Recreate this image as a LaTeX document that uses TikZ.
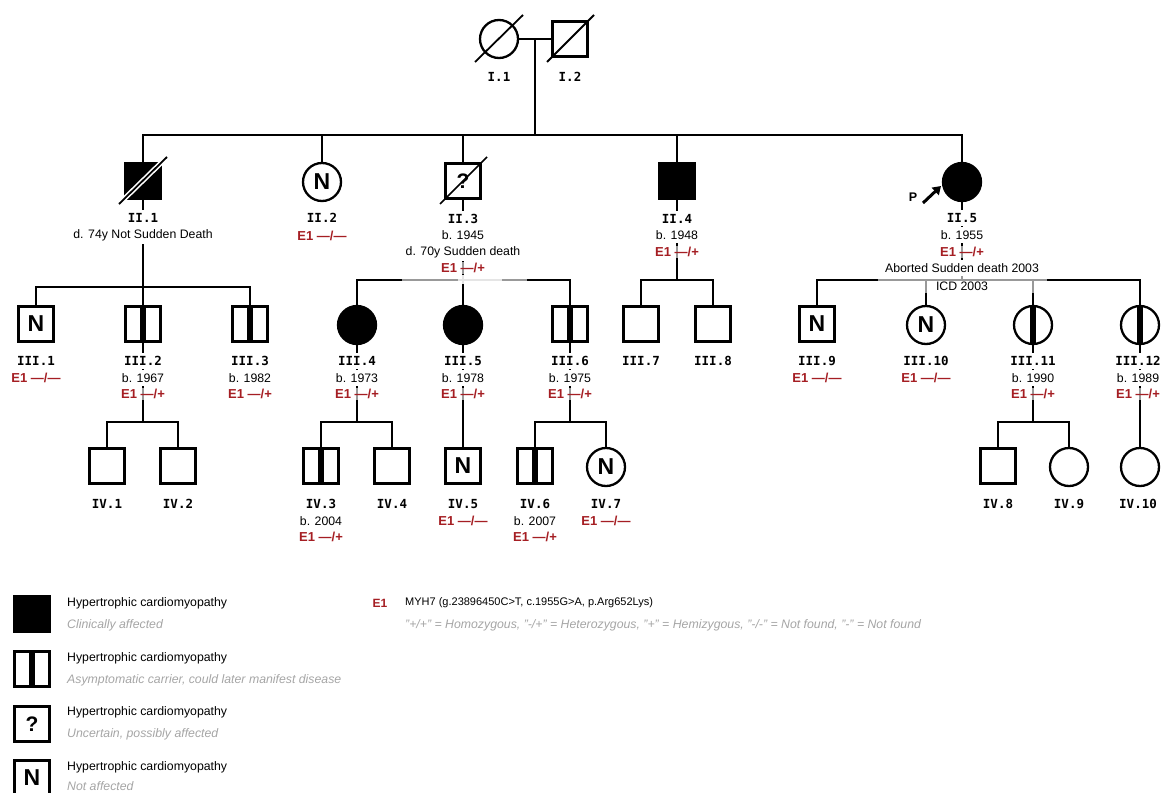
\documentclass[tikz,border=0pt]{standalone}
\usepackage{fontspec}
\setmainfont{Liberation Sans}
\newfontfamily\idff{DejaVu Sans Mono}
\usetikzlibrary{arrows.meta}
\definecolor{e1red}{RGB}{165,30,35}
\definecolor{subgray}{RGB}{165,165,165}
\pgfdeclarelayer{bg}
\pgfsetlayers{bg,main}
\begin{document}
\begin{tikzpicture}[x=1pt,y=-1pt,
 sq/.style={draw, line width=2.3pt, minimum size=35pt, inner sep=0pt, fill=white},
 ci/.style={circle, draw, line width=2.3pt, minimum size=38pt, inner sep=0pt, fill=white},
 aff/.style={fill=black},
 car/.style={path picture={\fill[black] ([xshift=-3.4pt]path picture bounding box.south) rectangle ([xshift=3.4pt]path picture bounding box.north);}},
 nn/.style={font=\fontsize{23}{23}\selectfont\bfseries},
 qq/.style={font=\fontsize{21}{21}\selectfont\bfseries},
 ln/.style={line width=1.8pt},
 dead/.style={line width=1.8pt},
 idl/.style={font=\idff\fontsize{12.5}{13}\selectfont\bfseries, fill=white, inner xsep=1pt, inner ysep=3pt},
 inf/.style={font=\fontsize{12.3}{13}\selectfont, fill=white, inner xsep=0.6pt, inner ysep=3pt},
 gen/.style={font=\fontsize{13}{14}\selectfont\bfseries, text=e1red, fill=white, fill opacity=0.6, text opacity=1, inner xsep=1pt, inner ysep=1.5pt},
 lgt/.style={font=\fontsize{12.3}{13}\selectfont, anchor=west, inner sep=0pt},
 lgs/.style={font=\fontsize{12.3}{13}\selectfont\itshape, text=subgray, anchor=west, inner sep=0pt},
]
\useasboundingbox (0,0) rectangle (1161,792);

% ---------- Generation I ----------
\node[ci] (I1) at (499,39) {};
\node[sq] (I2) at (570,39) {};
\draw[dead] (475,62) -- (523,15);
\draw[dead] (547,62) -- (594,15);
\node[idl] (I1l) at (499,77) {I.1};
\node[idl] (I2l) at (570,77) {I.2};
\coordinate (m1) at (535,39);
\coordinate (b2) at (535,135);

% ---------- Generation II ----------
\node[sq, aff] (II1) at (143,181) {};
\node[ci, nn] (II2) at (322,182) {N};
\node[sq, qq] (II3) at (463,181) {?};
\node[sq, aff] (II4) at (677,181) {};
\node[ci, aff] (II5) at (962,182) {};
\draw[white, line width=5pt] (121,202) -- (165,159);
\draw[dead] (119,204) -- (167,157);
\draw[dead, line width=1.6pt] (440,204) -- (487,157);

\node[font=\fontsize{12.5}{13}\selectfont\bfseries] (P) at (913,197) {P};
\coordinate (pt0) at (923,203);
\coordinate (pt1) at (941,186);
\draw[line width=3pt, -{Triangle[length=8pt,width=10pt]}] (pt0) -- (pt1);

% ---------- Generation III ----------
\node[sq, nn] (III1) at (36,324) {N};
\node[sq, car] (III2) at (143,324) {};
\node[sq, car] (III3) at (250,324) {};
\node[ci, aff] (III4) at (357,325) {};
\node[ci, aff] (III5) at (463,325) {};
\node[sq, car] (III6) at (570,324) {};
\node[sq] (III7) at (641,324) {};
\node[sq] (III8) at (713,324) {};
\node[sq, nn] (III9) at (817,324) {N};
\node[ci, nn] (III10) at (926,325) {N};
\node[ci, car] (III11) at (1033,325) {};
\node[ci, car] (III12) at (1140,325) {};

% ---------- Generation IV ----------
\node[sq] (IV1) at (107,466) {};
\node[sq] (IV2) at (178,466) {};
\node[sq, car] (IV3) at (321,466) {};
\node[sq] (IV4) at (392,466) {};
\node[sq, nn] (IV5) at (463,466) {N};
\node[sq, car] (IV6) at (535,466) {};
\node[ci, nn] (IV7) at (606,467) {N};
\node[sq] (IV8) at (998,466) {};
\node[ci] (IV9) at (1069,467) {};
\node[ci] (IV10) at (1140,467) {};

% ---------- connectors ----------
\coordinate (b31) at (143,287);
\coordinate (b33) at (463,280);
\coordinate (b34) at (677,280);
\coordinate (b35) at (962,280);
\coordinate (b4) at (143,422);
\begin{pgfonlayer}{bg}
\draw[ln] (I1) -- (I2);
\draw[ln] (m1) -- (b2);
\draw[ln] (II1) -- (II1 |- b2) -- (II5 |- b2) -- (II5);
\draw[ln] (II2) -- (II2 |- b2);
\draw[ln] (II3) -- (II3 |- b2);
\draw[ln] (II4) -- (II4 |- b2);
% children of II.1
\draw[ln] (II1) -- (b31);
\draw[ln] (III1) -- (III1 |- b31) -- (III3 |- b31) -- (III3);
\draw[ln] (III2) -- (III2 |- b31);
% children of II.3
\draw[ln] (II3) -- (b33);
\draw[ln] (III4) -- (III4 |- b33) -- (III6 |- b33) -- (III6);
\draw[ln] (III5) -- (III5 |- b33);
% children of II.4
\draw[ln] (II4) -- (b34);
\draw[ln] (III7) -- (III7 |- b34) -- (III8 |- b34) -- (III8);
% children of II.5
\draw[ln] (II5) -- (b35);
\draw[ln] (III9) -- (III9 |- b35) -- (III12 |- b35) -- (III12);
\draw[ln] (III10) -- (III10 |- b35);
\draw[ln] (III11) -- (III11 |- b35);
% generation IV
\draw[ln] (III2) -- (III2 |- b4);
\draw[ln] (IV1) -- (IV1 |- b4) -- (IV2 |- b4) -- (IV2);
\draw[ln] (III4) -- (III4 |- b4);
\draw[ln] (IV3) -- (IV3 |- b4) -- (IV4 |- b4) -- (IV4);
\draw[ln] (III5) -- (IV5);
\draw[ln] (III6) -- (III6 |- b4);
\draw[ln] (IV6) -- (IV6 |- b4) -- (IV7 |- b4) -- (IV7);
\draw[ln] (III11) -- (III11 |- b4);
\draw[ln] (IV8) -- (IV8 |- b4) -- (IV9 |- b4) -- (IV9);
\draw[ln] (III12) -- (IV10);
\end{pgfonlayer}

% translucent label backgrounds over the bars
\fill[white, opacity=0.6] (402,275) rectangle (527,284);
\fill[white, opacity=0.75] (458,275) rectangle (502,284);
\fill[white, opacity=0.6] (878,274) rectangle (1047,293);

% ---------- labels generation II ----------
\node[idl] (II1l) at (143,218) {II.1};
\node[inf] (II1d) at (143,235) {d. 74y Not Sudden Death};
\node[idl] (II2l) at (322,218) {II.2};
\node[gen] (II2g) at (322,236) {E1 —/—};
\node[idl] (II3l) at (463,219) {II.3};
\node[inf] (II3b) at (463,235) {b. 1945};
\node[inf] (II3d) at (463,252) {d. 70y Sudden death};
\node[gen] (II3g) at (463,268) {E1 —/+};
\node[idl] (II4l) at (677,219) {II.4};
\node[inf] (II4b) at (677,235) {b. 1948};
\node[gen] (II4g) at (677,252) {E1 —/+};
\node[idl] (II5l) at (962,218) {II.5};
\node[inf] (II5b) at (962,235) {b. 1955};
\node[gen] (II5g) at (962,252) {E1 —/+};
\node[inf] (II5a) at (962,268) {Aborted Sudden death 2003};
\node[inf, fill opacity=0.5, text opacity=1, inner ysep=1pt] (II5i) at (962,286) {ICD 2003};

% ---------- labels generation III ----------
\node[idl] (III1l) at (36,361) {III.1};
\node[gen] (III1g) at (36,378) {E1 —/—};
\node[idl] (III2l) at (143,361) {III.2};
\node[inf] (III2b) at (143,378) {b. 1967};
\node[gen] (III2g) at (143,394) {E1 —/+};
\node[idl] (III3l) at (250,361) {III.3};
\node[inf] (III3b) at (250,378) {b. 1982};
\node[gen] (III3g) at (250,394) {E1 —/+};
\node[idl] (III4l) at (357,361) {III.4};
\node[inf] (III4b) at (357,378) {b. 1973};
\node[gen] (III4g) at (357,394) {E1 —/+};
\node[idl] (III5l) at (463,361) {III.5};
\node[inf] (III5b) at (463,378) {b. 1978};
\node[gen] (III5g) at (463,394) {E1 —/+};
\node[idl] (III6l) at (570,361) {III.6};
\node[inf] (III6b) at (570,378) {b. 1975};
\node[gen] (III6g) at (570,394) {E1 —/+};
\node[idl] (III7l) at (641,361) {III.7};
\node[idl] (III8l) at (713,361) {III.8};
\node[idl] (III9l) at (817,361) {III.9};
\node[gen] (III9g) at (817,378) {E1 —/—};
\node[idl] (III10l) at (926,361) {III.10};
\node[gen] (III10g) at (926,378) {E1 —/—};
\node[idl] (III11l) at (1033,361) {III.11};
\node[inf] (III11b) at (1033,378) {b. 1990};
\node[gen] (III11g) at (1033,394) {E1 —/+};
\node[idl] (III12l) at (1138,361) {III.12};
\node[inf] (III12b) at (1138,378) {b. 1989};
\node[gen] (III12g) at (1138,394) {E1 —/+};

% ---------- labels generation IV ----------
\node[idl] (IV1l) at (107,504) {IV.1};
\node[idl] (IV2l) at (178,504) {IV.2};
\node[idl] (IV3l) at (321,504) {IV.3};
\node[inf] (IV3b) at (321,521) {b. 2004};
\node[gen] (IV3g) at (321,537) {E1 —/+};
\node[idl] (IV4l) at (392,504) {IV.4};
\node[idl] (IV5l) at (463,504) {IV.5};
\node[gen] (IV5g) at (463,521) {E1 —/—};
\node[idl] (IV6l) at (535,504) {IV.6};
\node[inf] (IV6b) at (535,521) {b. 2007};
\node[gen] (IV6g) at (535,537) {E1 —/+};
\node[idl] (IV7l) at (606,504) {IV.7};
\node[gen] (IV7g) at (606,521) {E1 —/—};
\node[idl] (IV8l) at (998,504) {IV.8};
\node[idl] (IV9l) at (1069,504) {IV.9};
\node[idl] (IV10l) at (1138,504) {IV.10};

% ---------- legend ----------
\node[sq, aff] (L1) at (32,614) {};
\node[lgt] (L1t) at (67,603) {Hypertrophic cardiomyopathy};
\node[lgs] (L1s) at (67,625) {Clinically affected};
\node[sq, car] (L2) at (32,669) {};
\node[lgt] (L2t) at (67,658) {Hypertrophic cardiomyopathy};
\node[lgs] (L2s) at (67,680) {Asymptomatic carrier, could later manifest disease};
\node[sq, qq] (L3) at (32,724) {?};
\node[lgt] (L3t) at (67,712) {Hypertrophic cardiomyopathy};
\node[lgs] (L3s) at (67,734) {Uncertain, possibly affected};
\node[sq, nn] (L4) at (32,778) {N};
\node[lgt] (L4t) at (67,767) {Hypertrophic cardiomyopathy};
\node[lgs] (L4s) at (67,786) {Not affected};

\node[font=\fontsize{12}{13}\selectfont\bfseries, text=e1red] (E1k) at (380,603) {E1};
\node[lgt, font=\fontsize{11}{12}\selectfont] (E1t) at (405,603) {MYH7 (g.23896450C>T, c.1955G>A, p.Arg652Lys)};
\node[lgs, font=\fontsize{12.3}{13}\selectfont\itshape] (E1s) at (405,625) {"+/+" = Homozygous, "-/+" = Heterozygous, "+" = Hemizygous, "-/-" = Not found, "-" = Not found};
\end{tikzpicture}
\end{document}
